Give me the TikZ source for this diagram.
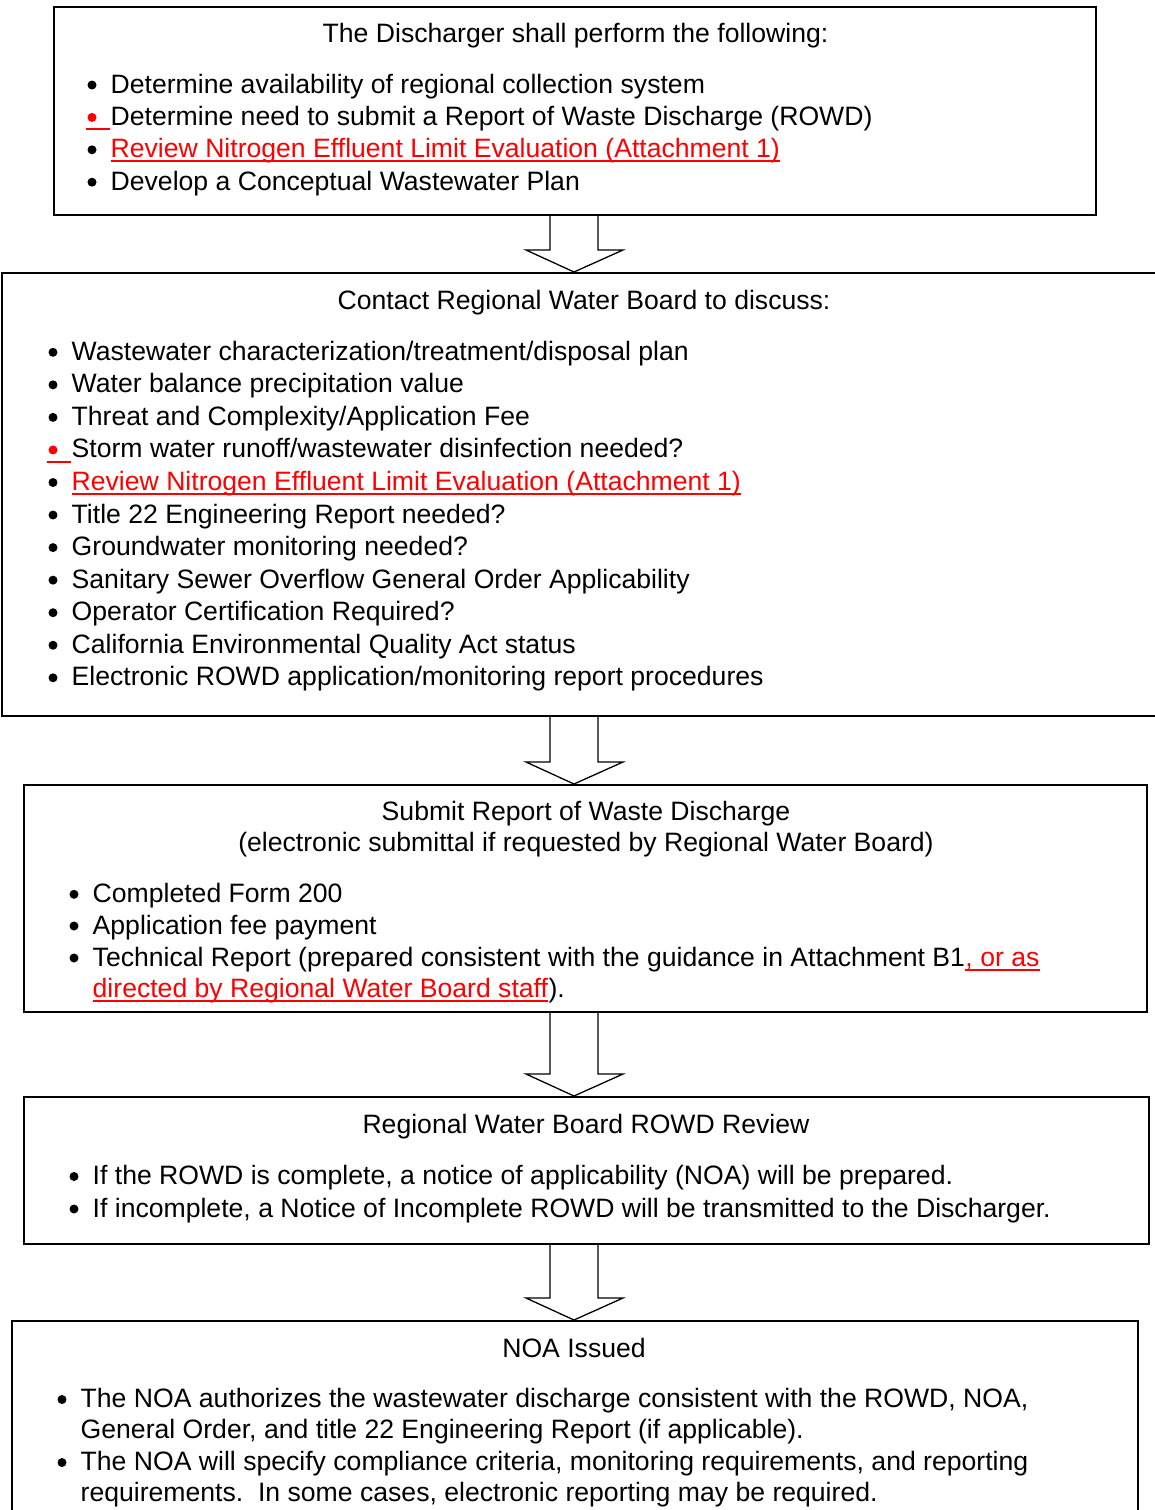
\documentclass[tikz,border=0pt]{standalone}
\usepackage{fontspec}
\setmainfont{Liberation Sans}
\usetikzlibrary{calc}
\newcommand\dfont{\fontsize{26.6pt}{32.4pt}\selectfont}
\newcommand\blockarrow[2]{%
  \draw[barrow] let \p1=(#1.south), \p2=(#2.north) in
    (550,\y1) -- (550,\y2+22pt) -- (526,\y2+22pt) -- (574,\y2) -- (623,\y2+22pt) -- (598,\y2+22pt) -- (598,\y1);}
\newcommand\uline[1]{%
  \draw[redline] ($(#1.base west)+(0,3.5)$) -- ($(#1.base east)+(0,3.5)$);}
\begin{document}
\begin{tikzpicture}[x=1pt,y=-1pt,
  box/.style={draw, line width=2pt, rectangle, inner sep=0pt},
  barrow/.style={draw, line width=1.3pt, line join=miter},
  txt/.style={anchor=base west, inner sep=0pt, font=\dfont},
  ttl/.style={anchor=base, inner sep=0pt, font=\dfont},
  bul/.style={circle, fill=black, draw=none, inner sep=0pt, minimum size=9pt},
  rbul/.style={bul, fill=red},
  rtxt/.style={txt, text=red},
  redline/.style={draw=red, line width=2pt}]
\useasboundingbox (0,0) rectangle (1155,1510);
\clip (0,0) rectangle (1155,1510);
\fill[white] (0,0) rectangle (1155,1510);

% ---------- boxes ----------
\node[box, minimum width=1042pt, minimum height=208pt] (b1) at (575,111) {};
\node[box, minimum width=1163pt, minimum height=443pt] (b2) at (583.5,494.5) {};
\node[box, minimum width=1123pt, minimum height=227pt] (b3) at (585.5,898.5) {};
\node[box, minimum width=1125pt, minimum height=147pt] (b4) at (586.5,1170.5) {};
\node[box, minimum width=1126pt, minimum height=209pt] (b5) at (575,1425.5) {};

% ---------- arrows ----------
\blockarrow{b1}{b2}
\blockarrow{b2}{b3}
\blockarrow{b3}{b4}
\blockarrow{b4}{b5}

% ---------- box 1 ----------
\node[ttl] (t1) at (575.5,42.7) {The Discharger shall perform the following:};
\node[bul] (u11) at (92,85) {};
\node[rbul] (u12) at (92,117.4) {};
\node[bul] (u13) at (92,149.8) {};
\node[bul] (u14) at (92,182.2) {};
\coordinate (r12a) at (86,128.9);
\coordinate (r12b) at (109.5,128.9);
\draw[redline] (r12a) -- (r12b);
\node[txt] (l11) at (110.5,93) {Determine availability of regional collection system};
\node[txt] (l12) at (110.5,125.4) {Determine need to submit a Report of Waste Discharge (ROWD)};
\node[rtxt] (l13) at (110.5,157.8) {Review Nitrogen Effluent Limit Evaluation (Attachment 1)};
\uline{l13}
\node[txt] (l14) at (110.5,190.2) {Develop a Conceptual Wastewater Plan};

% ---------- box 2 ----------
\node[ttl] (t2) at (584,309.5) {Contact Regional Water Board to discuss:};
\foreach \k/\s in {1/bul,2/bul,3/bul,4/rbul,5/bul,6/bul,7/bul,8/bul,9/bul,10/bul,11/bul}
  \node[\s] (u2\k) at (53,{352.3+32.55*(\k-1)}) {};
\coordinate (r24a) at (47,461.5);
\coordinate (r24b) at (70.5,461.5);
\draw[redline] (r24a) -- (r24b);
\node[txt] (l21) at (71.5,360.3) {Wastewater characterization/treatment/disposal plan};
\node[txt] (l22) at (71.5,392.85) {Water balance precipitation value};
\node[txt] (l23) at (71.5,425.4) {Threat and Complexity/Application Fee};
\node[txt] (l24) at (71.5,457.95) {Storm water runoff/wastewater disinfection needed?};
\node[rtxt] (l25) at (71.5,490.5) {Review Nitrogen Effluent Limit Evaluation (Attachment 1)};
\uline{l25}
\node[txt] (l26) at (71.5,523.05) {Title 22 Engineering Report needed?};
\node[txt] (l27) at (71.5,555.6) {Groundwater monitoring needed?};
\node[txt] (l28) at (71.5,588.15) {Sanitary Sewer Overflow General Order Applicability};
\node[txt] (l29) at (71.5,620.7) {Operator Certification Required?};
\node[txt] (l210) at (71.5,653.25) {California Environmental Quality Act status};
\node[txt] (l211) at (71.5,685.8) {Electronic ROWD application/monitoring report procedures};

% ---------- box 3 ----------
\node[ttl] (t3a) at (586,820) {Submit Report of Waste Discharge};
\node[ttl] (t3b) at (586,851) {(electronic submittal if requested by Regional Water Board)};
\node[bul] (u31) at (74,894.3) {};
\node[bul] (u32) at (74,926) {};
\node[bul] (u33) at (74,958) {};
\node[txt] (l31) at (92.5,902.3) {Completed Form 200};
\node[txt] (l32) at (92.5,934) {Application fee payment};
\node[txt] (l33a) at (92.5,966) {Technical Report (prepared consistent with the guidance in Attachment B1};
\node[rtxt] (l33b) at (l33a.base east) {, or as};
\uline{l33b}
\node[rtxt] (l34a) at (92.5,997.7) {directed by Regional Water Board staff};
\uline{l34a}
\node[txt] (l34b) at (l34a.base east) {).};

% ---------- box 4 ----------
\node[ttl] (t4) at (586,1133) {Regional Water Board ROWD Review};
\node[bul] (u41) at (74,1176.5) {};
\node[bul] (u42) at (74,1209) {};
\node[txt] (l41) at (92.5,1184.5) {If the ROWD is complete, a notice of applicability (NOA) will be prepared.};
\node[txt] (l42) at (92.5,1217) {If incomplete, a Notice of Incomplete ROWD will be transmitted to the Discharger.};

% ---------- box 5 ----------
\node[ttl] (t5) at (574,1357) {NOA Issued};
\node[bul] (u51) at (62,1399.5) {};
\node[bul] (u52) at (62,1462.5) {};
\node[txt] (l51) at (80.5,1407.5) {The NOA authorizes the wastewater discharge consistent with the ROWD, NOA,};
\node[txt] (l52) at (80.5,1438) {General Order, and title 22 Engineering Report (if applicable).};
\node[txt] (l53) at (80.5,1470.5) {The NOA will specify compliance criteria, monitoring requirements, and reporting};
\node[txt] (l54) at (80.5,1501) {requirements.\ \ In some cases, electronic reporting may be required.};
\end{tikzpicture}
\end{document}
